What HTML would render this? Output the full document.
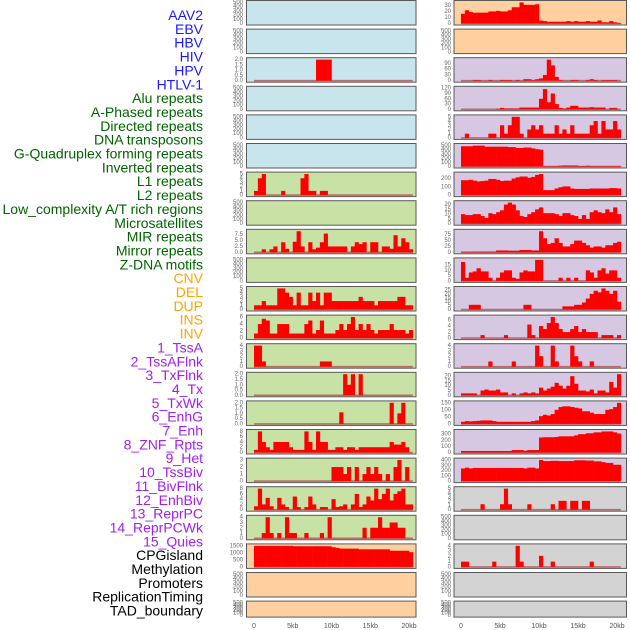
<!DOCTYPE html>
<html><head><meta charset="utf-8"><style>
html,body{margin:0;padding:0;background:#fff;}
svg{display:block;font-family:"Liberation Sans",sans-serif;}
</style></head><body>
<svg id="chart" width="630" height="630" viewBox="0 0 630 630" xmlns="http://www.w3.org/2000/svg"></svg>
<script>
const trackNames = ["AAV2","EBV","HBV","HIV","HPV","HTLV-1","Alu repeats","A-Phased repeats","Directed repeats","DNA transposons","G-Quadruplex forming repeats","Inverted repeats","L1 repeats","L2 repeats","Low_complexity A/T rich regions","Microsatellites","MIR repeats","Mirror repeats","Z-DNA motifs","CNV","DEL","DUP","INS","INV","1_TssA","2_TssAFlnk","3_TxFlnk","4_Tx","5_TxWk","6_EnhG","7_Enh","8_ZNF_Rpts","9_Het","10_TssBiv","11_BivFlnk","12_EnhBiv","13_ReprPC","14_ReprPCWk","15_Quies","CPGisland","Methylation","Promoters","ReplicationTiming","TAD_boundary"];
const trackGroups = ["virus","virus","virus","virus","virus","virus","repeat","repeat","repeat","repeat","repeat","repeat","repeat","repeat","repeat","repeat","repeat","repeat","repeat","sv","sv","sv","sv","sv","chrom","chrom","chrom","chrom","chrom","chrom","chrom","chrom","chrom","chrom","chrom","chrom","chrom","chrom","chrom","other","other","other","other","other"];
const xTickLabels = ["0","5kb","10kb","15kb","20kb"];
const xTickValues = [0,5,10,15,20];
const binSizeKb = 0.5;

const emptyTicks = ["0","100","200","300","400","500"];
const hbvValues = [0,0,0,0,0,0,0,0,0,0,0,0,0,0,0,0,2,2,2,2,0];
const aluValues = [1,4,5,0,0,0,0,1,0,0,0,0,4,5,1,1,0,1,1];
const directedValues = [0,0,1.3,0,1.3,2.5,0,4.3,1.5,0,4.5,9,2.5,0,4.3,1.3,2,4.3,8,2.5,2.5,2.5,2.5,2.5,0,2.5,4.3,3.5,4.3,0,4.3,4.3,0,2.5,2.5,1.5,7.3,2.5,6,4.3,1.3];
const gquadValues = [1,1,2,1,1,1,5,5,4,3,1,4,1,1,4,2,4,1,4,4,2,2,2,2,2,2,2,3,2,2,2,1,2,2,2,2,2,3,3,1,1];
const invertedValues = [1.3,4,5.5,5,1.3,1.3,4,4,4,1.3,1.3,1.3,1.3,4,5,1.3,2.3,5,1.3,1.3,1.3,2.3,4,2.3,4,6,2.3,4,2.3,4,2.3,1.3,2.3,2.3,2.3,4,2.3,2.3,2.3,1.3,2.3];
const l1Values = [4,4,1,0,0,0,0,0,0,0,0,0,0,0,0,0,0,1,1,1];
const l2Values = [0,0,0,0,0,0,0,0,0,0,0,0,0,0,0,0,0,0,0,0,0,0,0,2,1,2,0,2];
const lowComplexValues = [0,0,0,0,0,0,0,0,0,0,0,0,0,0,0,0,0,0,0,0,0,0,1.1,0,0,0,0,0,0,0,0,0,0,0,0,2,0,1,2];
const microsatValues = [1,8,4,2,1,4,4,4,4,2,1,1,1,8,4,1,8,4,4,1,1,2,2,1,2,2,1,2,2,2,2,2,2,2,2,4,3,3,4,2,0];
const mirValues = [0,0,0,0,0,0,0,0,0,0,0,0,0,0,0,0,0,0,0,0,2,2,2,1,2,0,2,0,1,2,1,2,1,0,1,0,2,3,0,2];
const mirrorValues = [1.3,8,2,4.5,1.3,0,4.5,2,1,0,5,1,0,1,5,2,0,1,1,0,4,1,1.3,2,0,2,6,1,2,5,3.5,8,4,6,8,3.5,6,7,8,2,2];
const zdnaValues = [0,0,1,4,1,0,1,0,4,1,1,0,0,1,0,0,0,1,0,4,0,0,0,0,0,0,0,0,2,0,2,2,4,2,2,3,3,2,2];
const cnvValues = [1500,1500,1500,1500,1500,1500,1500,1500,1500,1500,1470,1470,1470,1470,1470,1470,1470,1470,1470,1470,1400,1350,1300,1300,1300,1300,1300,1250,1250,1250,1250,1250,1250,1250,1250,1150,1150,1150,1150,1150,1050];
const insValues = [16,22,19,18,18,18,18,20,20,21,20,20,22,27,27,35,31,31,31,32,5,4,3,3,3,3,3,4,3,4,3,3,4,3,3,5,2,2,4,2,1];
const tssAValues = [0,0,0,4,4,0,0,4,0,0,4,4,4,0,4,0,8,8,4,8,12,30,110,80,20,4,0,0,4,4,0,0,4,8,4,0,4,4,4,4,0];
const tssAFlnkValues = [0,0,0,0,0,0,0,0,0,3,8,5,5,5,5,10,10,10,10,10,60,115,40,90,30,8,5,10,20,20,10,10,10,12,10,10,10,0,8,8,0];
const txFlnkValues = [0,1,0,0,0,0,0,1,1,0,3,1,3,5,5,1,0,2,3,2,3,1,1,1,3,1,2,1,3,1,1,1,1,3,4,1,4,2,2,4,2];
const txValues = [480,480,480,495,495,495,470,470,470,470,470,470,460,460,440,440,450,450,430,410,400,10,10,10,10,20,25,25,25,25,12,12,20,12,12,12,12,12,12,12,12];
const txWkValues = [180,180,185,175,165,170,175,195,195,185,170,175,175,200,215,225,225,210,220,245,255,60,60,60,80,95,105,105,80,75,75,75,75,80,80,80,80,80,85,85,80];
const enhGValues = [10,9,9,10,10,8,6,11,10,12,14,20,22,20,14,8,7,10,12,15,17,11,11,11,10,8,11,11,9,8,5,9,5,12,14,12,11,15,12,17,10];
const enhValues = [2,2,2,3,3,3,3,3,3,8,8,8,7,7,7,10,10,10,8,8,90,60,35,40,60,40,25,25,35,50,50,40,30,20,25,25,20,30,30,40,45];
const znfValues = [18,3,8,9,12,9,9,3,0,3,8,10,10,3,2,8,10,9,9,20,20,0,0,0,0,3,0,3,0,3,0,0,10,8,3,10,12,7,10,10,3];
const hetValues = [0,0,6,6,6,0,0,0,0,0,0,0,0,0,0,0,6,6,0,0,0,0,0,0,0,0,4,4,4,6,6,9,14,20,24,22,27,24,20,24,10];
const tssBivValues = [0,0,0,0,0,1,0,0,0,0,0,1,0,0,0,0,0,4.5,1,0,4,3,5,7,5,3,2,2,3,4,2,3,2,2,2,0,1,1,1,0,1];
const bivFlnkValues = [0,0,0,0,0,0,0,1,0,0,0,0,0,1,0,0,0,0,0,4,2,0,0,4,1,0,0,0,4,2,1,0,0,1];
const enhBivValues = [2,2,2,2,0,5,6,5,5,6,3,3,0,2,0,2,3,2,3,2,8,5,7,9,13,10,7,10,20,12,5,5,4,6,2,5,5,3,14,8,22];
const reprPCValues = [15,20,18,20,22,25,25,25,20,15,15,15,15,15,15,15,15,15,20,25,55,65,60,70,100,120,125,125,120,115,110,90,90,80,70,70,70,100,105,120,150];
const reprPCWkValues = [25,25,25,25,25,25,25,25,25,25,25,25,25,40,40,40,30,40,40,40,245,250,250,250,255,265,265,265,265,280,300,300,315,315,330,330,345,345,345,330,310];
const quiesValues = [240,255,240,250,250,250,250,250,250,250,250,250,250,250,250,250,240,255,255,240,400,380,380,385,385,380,380,380,380,395,395,395,390,390,375,375,360,345,345,310,310];
const cpgValues = [0,0,0,0,0,1.3,0,0,0,0,1.3,5,1.3,0,0,0,0,1.3,0,0,0,0,0,1.3,0,2.1,2.1,0,2.1,2.1,0,2.1,2.1];
const promoterValues = [1,1,0,0,0,0,0,0,1,0,0,0,0,0,4,1,0,0,0,0,2.1,0,0,1,0,0,0,0,0,0,0,0,0,1];

const trackValues = [[],[],hbvValues,[],[],[],aluValues,[],directedValues,[],gquadValues,invertedValues,l1Values,l2Values,lowComplexValues,microsatValues,mirValues,mirrorValues,zdnaValues,cnvValues,[],[],
  insValues,[],tssAValues,tssAFlnkValues,txFlnkValues,txValues,txWkValues,enhGValues,enhValues,znfValues,hetValues,tssBivValues,bivFlnkValues,enhBivValues,reprPCValues,reprPCWkValues,quiesValues,cpgValues,[],promoterValues,[],[]];
const trackTicks = [emptyTicks,emptyTicks,["0.0","0.5","1.0","1.5","2.0"],emptyTicks,emptyTicks,emptyTicks,["0","1","2","3","4","5"],emptyTicks,["0.0","2.5","5.0","7.5"],emptyTicks,["0","1","2","3","4","5"],["0","2","4","6"],["0","1","2","3","4"],["0.0","0.5","1.0","1.5","2.0"],["0.0","0.5","1.0","1.5","2.0"],["0","2","4","6","8"],["0","1","2","3"],["0","2","4","6","8"],["0","1","2","3","4"],["0","500","1000","1500"],emptyTicks,emptyTicks,
  ["0","10","20","30"],emptyTicks,["0","30","60","90"],["0","30","60","90","120"],["0","1","2","3","4","5"],["0","100","200","300","400","500"],["0","100","200"],["0","5","10","15","20"],["0","25","50","75"],["0","5","10","15"],["0","5","10","15","20","25"],["0","2","4","6"],["0","1","2","3","4"],["0","5","10","15","20"],["0","50","100","150"],["0","100","200","300"],["0","100","200","300","400"],["0","1","2","3","4","5"],emptyTicks,["0","1","2","3","4"],emptyTicks,emptyTicks];

const NS = "http://www.w3.org/2000/svg";
const svg = document.getElementById("chart");
const bgColors = {virus:"#c8e4ec",repeat:"#c8e1a5",sv:"#fed0a0",chrom:"#d6c8e3",other:"#d3d3d3"};
const labelColors = {virus:"#1a1aff",repeat:"#006400",sv:"#ffa500",chrom:"#a020f0",other:"#000000"};
const cols = [{x0:246.5,x1:416,zero:254,perKb:7.75,tickX:243},{x0:454,x1:626.5,zero:461,perKb:7.8,tickX:451}];
function mk(tag, attrs){const e=document.createElementNS(NS,tag);for(const k in attrs)e.setAttribute(k,attrs[k]);return e;}

// left labels
trackNames.forEach((name,i)=>{
  const t = mk("text",{x:203,y:15+i*13.85,"text-anchor":"end","dominant-baseline":"central","font-size":"14",fill:labelColors[trackGroups[i]]});
  
  
  t.textContent = name;
  svg.appendChild(t);
});

for(let ti=0; ti<44; ti++){
  const c = ti<22 ? 0 : 1;
  const row = ti % 22;
  const col = cols[c];
  const top = 0.5 + row*28.6;
  const h = row===21 ? 16 : 24.5;
  const bottom = top + h;
  const xs = kb => col.zero + kb*col.perKb;
  const vals = trackValues[ti];
  const ticks = trackTicks[ti];
  const tickNums = ticks.map(Number);
  const dataMax = vals.length ? Math.max(...vals) : 0;
  const ymax = Math.max(dataMax, tickNums[tickNums.length-1]) * 1.02;
  const ys = v => bottom - 1.5 - (v/ymax)*(h-3);
  const g = mk("g",{});
  
  
  const bg = mk("rect",{x:col.x0,y:top,width:col.x1-col.x0,height:h,fill:bgColors[trackGroups[ti]],stroke:"#5a5a5a","stroke-width":"1"});
  
  
  g.appendChild(bg);
  ticks.forEach((lab,k)=>{
    const t = mk("text",{x:col.tickX,y:ys(tickNums[k])+0.5,"text-anchor":"end","dominant-baseline":"central","font-size":"6",fill:"#666"});
    
    
    t.textContent = lab;
    g.appendChild(t);
  });
  if(vals.length){
    const base = mk("line",{x1:xs(0),x2:xs(20.5),y1:ys(0),y2:ys(0),stroke:"#b04040","stroke-width":"1.6","stroke-opacity":"0.7"});
    
    
    g.appendChild(base);
    vals.forEach((v,i)=>{
      if(v<=0) return;
      const x0 = xs(i*binSizeKb), x1 = xs((i+1)*binSizeKb);
      const r = mk("rect",{x:x0,y:ys(v),width:x1-x0+0.3,height:ys(0)-ys(v),fill:"#ff0000"});
      
      
      g.appendChild(r);
    });
  }
  svg.appendChild(g);
}
// x axes
cols.forEach(col=>{
  xTickValues.forEach((v,k)=>{
    const t = mk("text",{x:col.zero+v*col.perKb,y:628,"text-anchor":"middle","font-size":"7",fill:"#555"});
    
    
    t.textContent = xTickLabels[k];
    svg.appendChild(t);
  });
});
</script>
</body></html>
